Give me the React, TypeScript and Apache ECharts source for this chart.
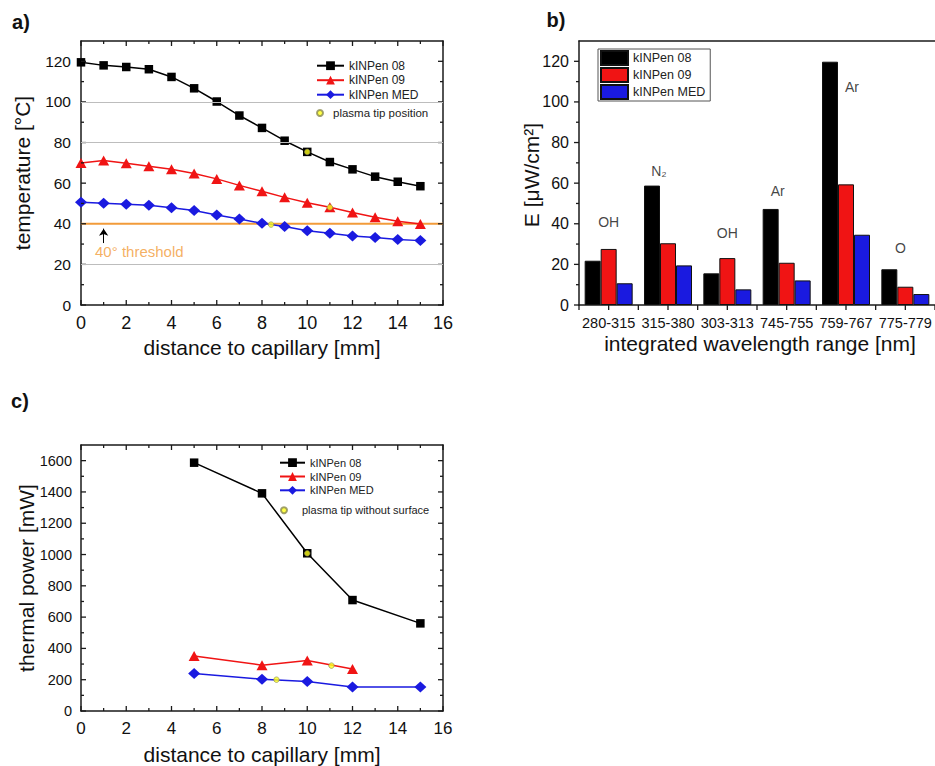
import React, { useEffect, useRef } from 'react';
import * as echarts from 'echarts';

// ---------- data: panel a ----------
const distanceA = [0, 1, 2, 3, 4, 5, 6, 7, 8, 9, 10, 11, 12, 13, 14, 15];
const tempPen08 = [119.5, 118, 117.2, 116.1, 112.3, 106.7, 100.2, 93.3, 87.2, 80.9, 75.4, 70.4, 66.8, 63.2, 60.7, 58.5];
const tempPen09 = [69.9, 71.1, 69.8, 68.3, 66.8, 64.8, 62.1, 58.9, 56.0, 53.0, 50.4, 48.1, 45.6, 43.2, 41.2, 39.9];
const tempMed = [50.6, 50.1, 49.6, 49.1, 47.9, 46.5, 44.3, 42.4, 40.2, 38.6, 36.6, 35.3, 34.0, 33.2, 32.3, 31.7];
const tipDistA = [10, 11, 8.4];
const tipTempA = [75.4, 48.1, 39.6];
const thresholdA = 40;
const gridValuesA = [20, 80, 100];

// ---------- data: panel b ----------
const rangesB = ['280-315', '315-380', '303-313', '745-755', '759-767', '775-779'];
const ePen08 = [21.8, 58.8, 15.6, 47.3, 119.8, 17.6];
const ePen09 = [27.6, 30.4, 23.1, 20.8, 59.4, 9.0];
const eMed = [10.7, 19.5, 7.7, 12.1, 34.6, 5.4];
const speciesB = ['OH', 'N₂', 'OH', 'Ar', 'Ar', 'O'];

// ---------- data: panel c ----------
const distanceC = [5, 8, 10, 12, 15];
const powerPen08 = [1587, 1391, 1008, 709, 560];
const distanceC09 = [5, 8, 10, 12];
const powerPen09 = [352, 293, 323, 269];
const powerMed = [239, 203, 188, 154, 154];
const tipDistC = [10, 11.07, 8.64];
const tipPowerC = [1008, 290, 200];

// ---------- layout / style ----------
const FONT = '"Liberation Sans", Arial, Helvetica, sans-serif';
const AX = '#1a1a1a';
const BLACK = '#000000';
const RED = '#f01414';
const BLUE = '#1a1ae0';
const ORANGE = '#f29b3a';
const YELLOW = '#ffff1a';
const speciesLayout = [
  { y: 41, dx: 0 },
  { y: 66, dx: -9 },
  { y: 35.5, dx: 0 },
  { y: 56, dx: -9 },
  { y: 107.4, dx: 6 },
  { y: 28, dx: -5 },
];
const arrowA = [[1, 30.5], [1, 37.6]];
const thresholdLabelPos = [0.62, 26.1];
const MAJOR = 5;
const MINOR = 3;

const axisLine = { show: true, onZero: false, lineStyle: { color: AX, width: 1.5 } };
const noTicks = { show: false };

function range(a: number, b: number, step: number) {
  const r: number[] = [];
  for (let v = a; v <= b + 1e-9; v += step) r.push(v);
  return r;
}

function valX(grid: number, pos: string, labels: boolean, fs: number) {
  return {
    type: 'value', gridIndex: grid, position: pos, min: 0, max: 16, interval: 2, axisLine,
    axisTick: noTicks, minorTick: noTicks,
    axisLabel: { show: labels, fontSize: fs, color: '#111', fontFamily: FONT, margin: 9 },
    splitLine: { show: false },
  };
}
function valY(grid: number, pos: string, max: number, interval: number, labels: boolean,
  fs: number, margin: number, hideAbove: number) {
  return {
    type: 'value', gridIndex: grid, position: pos, min: 0, max, interval, axisLine,
    axisTick: noTicks, minorTick: noTicks,
    axisLabel: {
      show: labels, fontSize: fs, color: '#111', fontFamily: FONT, margin,
      formatter: (v: number) => (v > hideAbove ? '' : String(v)),
    },
    splitLine: { show: false },
  };
}
function catX(grid: number, pos: string, labels: boolean) {
  return {
    type: 'category', gridIndex: grid, position: pos, data: rangesB, axisLine,
    axisTick: noTicks,
    axisLabel: { show: labels, interval: 0, fontSize: 14.5, color: '#111', fontFamily: FONT, margin: 10 },
    splitLine: { show: false },
  };
}
const legendFmt = (n: string) => n.split('|')[0];

// tick item: [x, y, side(0 bottom,1 top,2 left,3 right), length(+inside/-outside), bandOffset]
function tickSeries(xi: number, yi: number, items: number[][], bandCount: number) {
  return {
    type: 'custom', xAxisIndex: xi, yAxisIndex: yi, silent: true, z: 4, clip: false,
    data: items,
    renderItem: (params: any, api: any) => {
      const cs = params.coordSys;
      const p = api.coord([api.value(0), api.value(1)]);
      const side = api.value(2);
      const len = api.value(3);
      const frac = api.value(4) || 0;
      let x1: number, y1: number, x2: number, y2: number;
      if (side === 0 || side === 1) {
        const band = bandCount > 0 ? cs.width / bandCount : 0;
        x1 = p[0] + frac * band;
        x2 = x1;
        y1 = side === 0 ? cs.y + cs.height : cs.y;
        y2 = side === 0 ? y1 - len : y1 + len;
      } else {
        y1 = p[1];
        y2 = y1;
        x1 = side === 2 ? cs.x : cs.x + cs.width;
        x2 = side === 2 ? x1 + len : x1 - len;
      }
      return { type: 'line', shape: { x1, y1, x2, y2 }, style: { stroke: AX, lineWidth: 1.3 } };
    },
  };
}

function boxTicks(xMajor: number[], xMinor: number[], yMajor: number[], yMinor: number[]) {
  const items: number[][] = [];
  for (const side of [0, 1]) {
    xMajor.forEach((v) => items.push([v, 0, side, MAJOR, 0]));
    xMinor.forEach((v) => items.push([v, 0, side, MINOR, 0]));
  }
  for (const side of [2, 3]) {
    yMajor.forEach((v) => items.push([0, v, side, MAJOR, 0]));
    yMinor.forEach((v) => items.push([0, v, side, MINOR, 0]));
  }
  return items;
}

function barTicks() {
  const items: number[][] = [];
  rangesB.forEach((_, i) => {
    items.push([i, 0, 0, -MAJOR, 0]);
    items.push([i, 0, 0, -MAJOR, -0.5]);
  });
  items.push([rangesB.length - 1, 0, 0, -MAJOR, 0.5]);
  range(0, 120, 20).forEach((v) => items.push([0, v, 2, -MAJOR, 0]));
  range(10, 110, 20).forEach((v) => items.push([0, v, 2, -MINOR, 0]));
  return items;
}

function buildOption() {
  const pts = (xs: number[], ys: number[]) => xs.map((x, i) => [x, ys[i]]);
  const ls = (name: string, xi: number, yi: number, data: number[][], color: string, symbol: string, size: any) => ({
    type: 'line', name, xAxisIndex: xi, yAxisIndex: yi, data, symbol, symbolSize: size,
    lineStyle: { color, width: 1.5 }, itemStyle: { color }, z: 3,
  });
  const tip = (name: string, xi: number, yi: number, data: number[][]) => ({
    type: 'scatter', name, xAxisIndex: xi, yAxisIndex: yi, data, symbol: 'circle', symbolSize: 5.5,
    itemStyle: { color: YELLOW, borderColor: '#8a8a50', borderWidth: 0.8 }, z: 5,
  });
  const bar = (name: string, data: number[], color: string) => ({
    type: 'bar', name, xAxisIndex: 2, yAxisIndex: 2, data, barWidth: 16, barGap: '0%',
    itemStyle: { color, borderColor: '#111', borderWidth: 1 },
  });
  const text = (t: string, x: number, y: number, fs: number, opts: any = {}) => ({
    type: 'text', x, y, rotation: opts.rotation || 0,
    style: {
      text: t, fontSize: fs, fontFamily: FONT, fontWeight: opts.bold ? 'bold' : 'normal', fill: '#111',
      align: 'center', verticalAlign: 'middle', textAlign: 'center', textVerticalAlign: 'middle',
    },
  });

  const series: any[] = [
    {
      type: 'line', name: 'threshold', xAxisIndex: 0, yAxisIndex: 0,
      data: [[0, thresholdA], [16, thresholdA]], symbol: 'none',
      lineStyle: { color: ORANGE, width: 2 }, z: 1,
      markLine: {
        symbol: 'none', label: { show: false },
        lineStyle: { color: '#bdbdbd', width: 1, type: 'solid' },
        data: gridValuesA.map((v) => ({ yAxis: v })),
      },
    },
    ls('kINPen 08|a', 0, 0, pts(distanceA, tempPen08), BLACK, 'rect', 8.5),
    ls('kINPen 09|a', 0, 0, pts(distanceA, tempPen09), RED, 'triangle', [11, 10]),
    ls('kINPen MED|a', 0, 0, pts(distanceA, tempMed), BLUE, 'diamond', [12, 11]),
    tip('plasma tip position', 0, 0, pts(tipDistA, tipTempA)),
    ls('kINPen 08|c', 4, 3, pts(distanceC, powerPen08), BLACK, 'rect', 8.5),
    ls('kINPen 09|c', 4, 3, pts(distanceC09, powerPen09), RED, 'triangle', [11, 10]),
    ls('kINPen MED|c', 4, 3, pts(distanceC, powerMed), BLUE, 'diamond', [12, 11]),
    tip('plasma tip without surface', 4, 3, pts(tipDistC, tipPowerC)),
    bar('kINPen 08|b', ePen08, BLACK),
    bar('kINPen 09|b', ePen09, RED),
    bar('kINPen MED|b', eMed, BLUE),
    {
      type: 'lines', coordinateSystem: 'cartesian2d', xAxisIndex: 0, yAxisIndex: 0,
      data: [{ coords: arrowA }], symbol: ['none', 'arrow'], symbolSize: 7,
      lineStyle: { color: '#000', width: 1, opacity: 1 },
    },
    {
      type: 'scatter', xAxisIndex: 0, yAxisIndex: 0, data: [thresholdLabelPos], symbolSize: 0,
      label: {
        show: true, position: 'right', distance: 0, formatter: '40° threshold',
        fontSize: 15, color: ORANGE, fontFamily: FONT,
      },
    },
    {
      type: 'scatter', xAxisIndex: 2, yAxisIndex: 2, symbolSize: 0,
      data: speciesB.map((s, i) => ({
        value: [i, speciesLayout[i].y], name: s,
        label: { offset: [speciesLayout[i].dx, 0] },
      })),
      label: {
        show: true, position: 'inside', formatter: (p: any) => p.name,
        fontSize: 14, color: '#111', fontFamily: FONT,
      },
    },
    tickSeries(0, 0, boxTicks(range(0, 16, 2), range(1, 15, 2), range(0, 120, 20), range(10, 110, 20)), 0),
    tickSeries(2, 2, barTicks(), rangesB.length),
    tickSeries(4, 3, boxTicks(range(0, 16, 2), range(1, 15, 2), range(0, 1600, 200), range(100, 1500, 200)), 0),
  ];

  return {
    animation: false,
    backgroundColor: '#ffffff',
    textStyle: { fontFamily: FONT },
    grid: [
      { left: 81, top: 41, width: 362, height: 264 },
      { left: 579, top: 41, width: 362, height: 264 },
      { left: 81, top: 445, width: 362, height: 266 },
    ],
    xAxis: [
      valX(0, 'bottom', true, 18),
      valX(0, 'top', false, 18),
      catX(1, 'bottom', true),
      catX(1, 'top', false),
      valX(2, 'bottom', true, 17),
      valX(2, 'top', false, 17),
    ],
    yAxis: [
      valY(0, 'left', 130, 20, true, 15.5, 10, 120),
      valY(0, 'right', 130, 20, false, 15.5, 10, 120),
      valY(1, 'left', 130, 20, true, 16, 10, 120),
      valY(2, 'left', 1700, 200, true, 14.5, 9, 1600),
      valY(2, 'right', 1700, 200, false, 14.5, 9, 1600),
    ],
    legend: [
      {
        orient: 'vertical', left: 316, top: 59.7, itemWidth: 27, itemHeight: 11, itemGap: 2.5, padding: 0,
        selectedMode: false, formatter: legendFmt,
        data: ['kINPen 08|a', 'kINPen 09|a', 'kINPen MED|a'],
        textStyle: { fontSize: 12, color: '#222', fontFamily: FONT },
      },
      {
        orient: 'vertical', left: 316, top: 107, itemWidth: 16, itemHeight: 6, padding: 0,
        selectedMode: false, data: ['plasma tip position'],
        textStyle: { fontSize: 11.5, color: '#222', fontFamily: FONT },
      },
      {
        orient: 'vertical', left: 598, top: 49, itemWidth: 27, itemHeight: 14, itemGap: 1,
        padding: [1, 5, 1, 2], borderColor: '#555', borderWidth: 1, icon: 'rect',
        selectedMode: false, formatter: legendFmt,
        data: ['kINPen 08|b', 'kINPen 09|b', 'kINPen MED|b'],
        textStyle: { fontSize: 12.5, color: '#222', fontFamily: FONT },
      },
      {
        orient: 'vertical', left: 279, top: 457.2, itemWidth: 25, itemHeight: 11, itemGap: 2.8, padding: 0,
        selectedMode: false, formatter: legendFmt,
        data: ['kINPen 08|c', 'kINPen 09|c', 'kINPen MED|c'],
        textStyle: { fontSize: 11, color: '#222', fontFamily: FONT },
      },
      {
        orient: 'vertical', left: 280, top: 504.8, itemWidth: 26, itemHeight: 6, padding: 0,
        selectedMode: false, data: ['plasma tip without surface'],
        textStyle: { fontSize: 11, color: '#222', fontFamily: FONT },
      },
    ],
    series,
    graphic: [
      text('a)', 21, 22, 20, { bold: true }),
      text('b)', 556, 20, 20, { bold: true }),
      text('c)', 20, 401, 20, { bold: true }),
      text('temperature [°C]', 22, 173, 21, { rotation: Math.PI / 2 }),
      text('distance to capillary [mm]', 262, 347, 21),
      text('E [μW/cm²]', 531, 175, 21, { rotation: Math.PI / 2 }),
      text('integrated wavelength range [nm]', 760, 343, 21),
      text('thermal power [mW]', 26, 578, 21, { rotation: Math.PI / 2 }),
      text('distance to capillary [mm]', 262, 754, 21),
    ],
  };
}

export default function App() {
  const ref = useRef<HTMLDivElement>(null);
  useEffect(() => {
    if (!ref.current) return;
    const chart = echarts.init(ref.current, undefined, { renderer: 'svg' });
    chart.setOption(buildOption() as any);
    return () => chart.dispose();
  }, []);
  return <div ref={ref} style={{ position: 'absolute', left: 0, top: 0, width: 935, height: 766 }} />;
}
